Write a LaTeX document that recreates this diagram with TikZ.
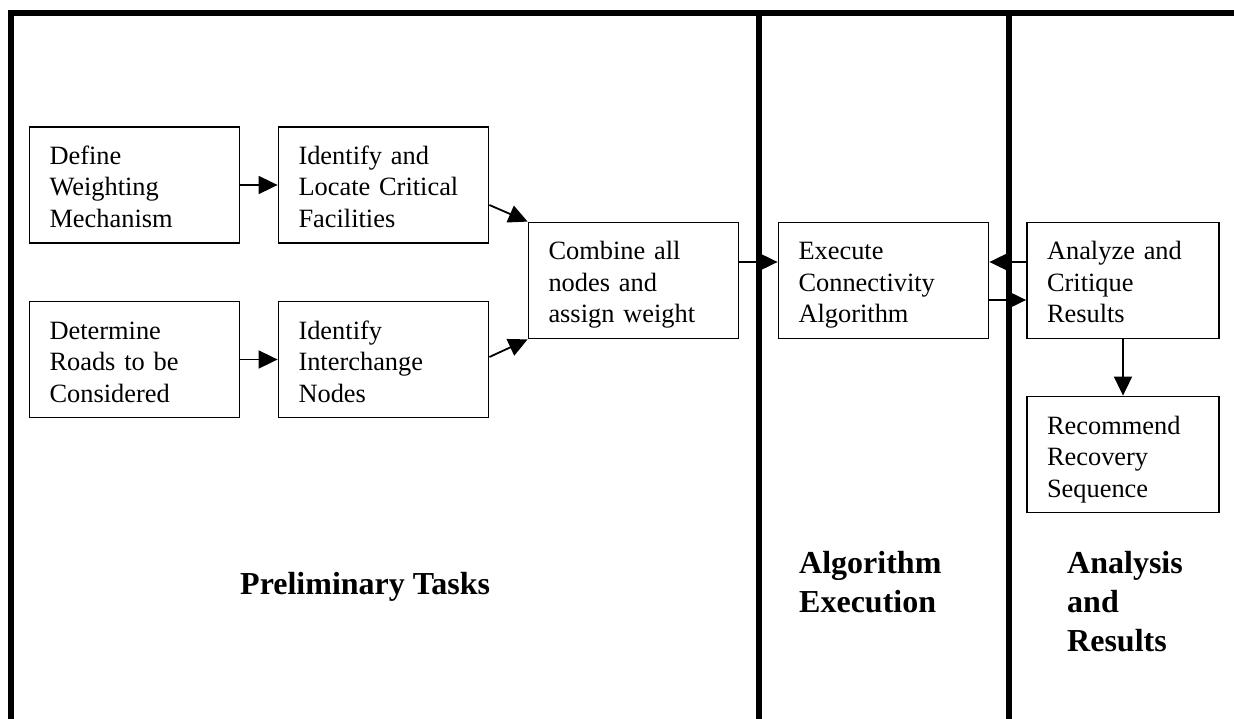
\documentclass[tikz,border=0pt]{standalone}
\usepackage{fontspec}
\setmainfont{Liberation Serif}
\usetikzlibrary{arrows.meta}
\newcommand\boxtext[3]{\rule{0pt}{30pt}#1\\#2\\\raisebox{0pt}[\height][0pt]{#3}\rule[-8pt]{0pt}{0pt}}
\begin{document}
\begin{tikzpicture}[x=1pt,y=-1pt,
  box/.style={draw,line width=1.8pt,inner xsep=20pt,inner ysep=0pt,minimum height=116pt,align=left,
    font=\fontsize{26.4}{31.5}\selectfont},
  wbox/.style={box,text width=170pt},
  nbox/.style={box,text width=152pt},
  conn/.style={line width=1.8pt,-{Triangle[length=19pt,width=18pt]}},
  frame/.style={line width=5.5pt},
  lbl/.style={inner sep=0pt,anchor=base west,align=left,font=\fontsize{32}{39}\selectfont\bfseries}]
\useasboundingbox (0,0) rectangle (1234,719);
\fill[white] (0,0) rectangle (1234,719);
% frame and dividers
\draw[frame] (11,719) -- (11,13) -- (1234,13);
\draw[frame] (759,13) -- (759,719);
\draw[frame] (1009,13) -- (1009,719);
% boxes
\node[wbox] (def) at (134.5,185) {\boxtext{Define}{Weighting}{Mechanism}};
\node[wbox] (ident) at (383.5,185) {\boxtext{Identify and}{Locate Critical}{Facilities}};
\node[wbox] (det) at (134.5,359.5) {\boxtext{Determine}{Roads to be}{Considered}};
\node[wbox] (inter) at (383.5,359.5) {\boxtext{Identify}{Interchange}{Nodes}};
\node[wbox] (comb) at (633.5,280.5) {\boxtext{Combine all}{nodes and}{assign weight}};
\node[wbox] (exec) at (883.5,280.5) {\boxtext{Execute}{Connectivity}{Algorithm}};
\node[nbox] (anal) at (1123,280.5) {\boxtext{Analyze and}{Critique}{Results}};
\node[nbox] (rec) at (1123,454.5) {\boxtext{Recommend}{Recovery}{Sequence}};
% connectors
\draw[conn] (def.east) -- (ident.west);
\draw[conn] (det.east) -- (inter.west);
\draw[conn] ([yshift=-20pt]ident.east) -- (comb.north west);
\draw[conn] ([yshift=2.5pt]inter.east) -- (comb.south west);
\draw[conn] ([yshift=18.5pt]comb.east) -- ([yshift=18.5pt]exec.west);
\draw[conn] ([yshift=18.5pt]anal.west) -- ([yshift=18.5pt]exec.east);
\draw[conn] ([yshift=-19.5pt]exec.east) -- ([yshift=-19.5pt]anal.west);
\draw[conn] (anal.south) -- (rec.north);
% section labels
\node[lbl] (l1) at (240,594) {Preliminary Tasks};
\node[lbl] (l2) at (799,612) {Algorithm\\Execution};
\node[lbl] (l3) at (1067,651) {Analysis\\and\\Results};
\end{tikzpicture}
\end{document}
